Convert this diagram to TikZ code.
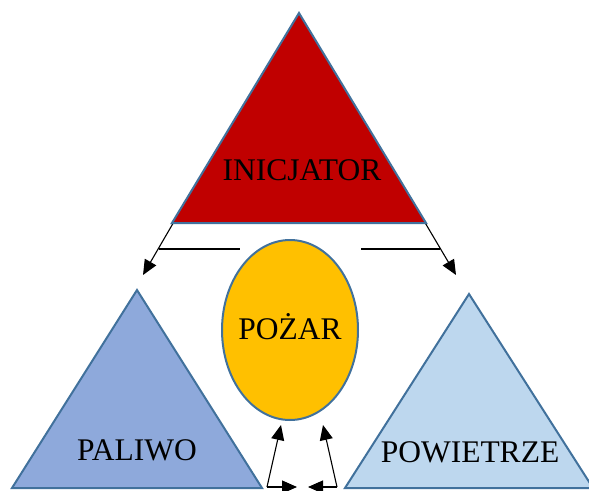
\documentclass[tikz,border=0pt]{standalone}
\usepackage{fontspec}
\setmainfont{Liberation Serif}
\usetikzlibrary{arrows.meta,shapes.geometric}
\definecolor{redfill}{HTML}{C00000}
\definecolor{edgeblue}{HTML}{41719C}
\definecolor{fuelfill}{HTML}{8EA9DB}
\definecolor{airfill}{HTML}{BDD7EE}
\definecolor{firefill}{HTML}{FFC000}
\tikzset{
  tri/.style={draw=edgeblue, line width=2pt, line join=miter},
  lbl/.style={font=\fontsize{31.5}{36}\selectfont, text=black, inner sep=0pt},
  conn/.style={draw=black, line width=1.1pt},
  arr/.style={conn, -{Triangle[length=15pt,width=13pt]}},
}
\begin{document}
\begin{tikzpicture}[x=1pt,y=-1pt]
\useasboundingbox (0,0) rectangle (589,490);
\clip (0,0) rectangle (589,490);
% coordinates of triangles
\coordinate (tA) at (299,13);
\coordinate (tL) at (172,223);
\coordinate (tR) at (426,223);
\coordinate (lA) at (137,290);
\coordinate (lL) at (12,488);
\coordinate (lR) at (262,488);
\coordinate (rA) at (469,294);
\coordinate (rL) at (345,488);
\coordinate (rR) at (593,488);
% connector ends
\coordinate (aLs) at (200,177);
\coordinate (aLe) at (143,275);
\coordinate (aRs) at (398,177);
\coordinate (aRe) at (456,275);
\coordinate (hL1) at (159,249);
\coordinate (hL2) at (240,249);
\coordinate (hR1) at (361,249);
\coordinate (hR2) at (440,249);
\coordinate (bL) at (267,487);
\coordinate (bLup) at (281,425);
\coordinate (bLrt) at (297,487);
\coordinate (bR) at (337,487);
\coordinate (bRup) at (323,425);
\coordinate (bRlt) at (308,487);
% arrows behind the top triangle
\draw[arr] (aLs) -- (aLe);
\draw[arr] (aRs) -- (aRe);
% triangles
\filldraw[tri, fill=redfill] (tA) -- (tL) -- (tR) -- cycle;
\filldraw[tri, fill=fuelfill] (lA) -- (lL) -- (lR) -- cycle;
\filldraw[tri, fill=airfill] (rA) -- (rL) -- (rR) -- cycle;
% circle
\node[draw=edgeblue, line width=2pt, fill=firefill, ellipse, minimum width=136pt, minimum height=180pt, inner sep=0pt] (fire) at (290,330) {};
\node[lbl] (pozar) at (290,327) {POŻAR};
\node[lbl] (inic) at (302,170) {INICJATOR};
\node[lbl] (paliwo) at (137,450) {PALIWO};
\node[lbl] (powietrze) at (470,452) {POWIETRZE};
% horizontal lines
\draw[conn] (hL1) -- (hL2);
\draw[conn] (hR1) -- (hR2);
% bottom arrows
\draw[arr] (bL) -- (bLup);
\draw[arr] (bL) -- (bLrt);
\draw[arr] (bR) -- (bRup);
\draw[arr] (bR) -- (bRlt);
\end{tikzpicture}
\end{document}
